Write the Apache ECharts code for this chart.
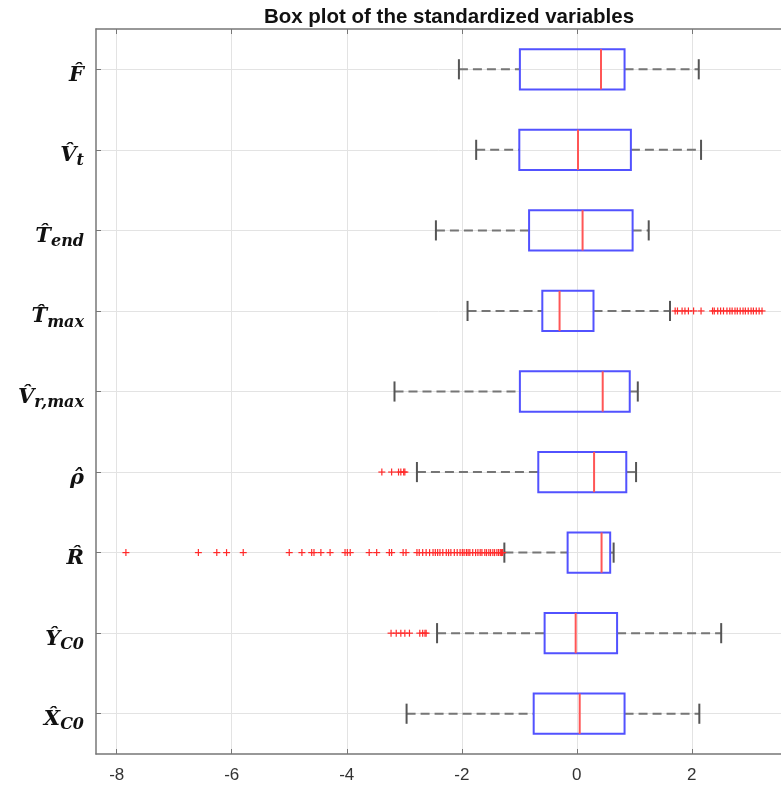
<!DOCTYPE html>
<html>
<head>
<meta charset="utf-8">
<script src="https://cdn.jsdelivr.net/npm/echarts@6/dist/echarts.min.js"></script>
<style>html,body{margin:0;padding:0;background:#fff;overflow:hidden}#c{width:781px;height:789px}</style>
</head>
<body>
<div id="c"></div>
<script>
// ---- data (top to bottom) ----
const categories = ['F', 'V_t', 'T_end', 'T_max', 'V_r,max', 'rho', 'R', 'Y_C0', 'X_C0'];
const labelMain = ['F', 'V', 'T', 'T', 'V', 'ρ', 'R', 'Y', 'X'];
const labelSub = ['', 't', 'end', 'max', 'r,max', '', '', 'C0', 'C0'];
const whiskerLow  = [-2.05, -1.75, -2.45, -1.90, -3.17, -2.78, -1.26, -2.43, -2.96];
const q1          = [-0.99, -1.00, -0.83, -0.60, -0.99, -0.67, -0.16, -0.56, -0.75];
const median      = [ 0.42,  0.02,  0.10, -0.30,  0.45,  0.30,  0.43, -0.02,  0.05];
const q3          = [ 0.83,  0.94,  0.97,  0.29,  0.92,  0.86,  0.58,  0.70,  0.83];
const whiskerHigh = [ 2.12,  2.16,  1.25,  1.62,  1.06,  1.03,  0.64,  2.51,  2.13];
const outliersTmax = [1.71, 1.75, 1.83, 1.88, 1.94, 2.03, 2.16, 2.36, 2.39, 2.45, 2.50, 2.55, 2.61, 2.66,
  2.70, 2.75, 2.79, 2.84, 2.89, 2.93, 2.98, 3.03, 3.07, 3.12, 3.17, 3.22];
const outliersRho = [-3.39, -3.22, -3.10, -3.06, -3.01, -2.99];
const outliersR = [-7.84, -6.58, -6.26, -6.09, -5.80, -5.00, -4.78, -4.61, -4.57, -4.45, -4.29, -4.03, -3.99,
  -3.94, -3.61, -3.48, -3.26, -3.22, -3.02, -2.97, -2.78, -2.74, -2.68, -2.62, -2.56, -2.50, -2.46, -2.42,
  -2.38, -2.33, -2.27, -2.23, -2.19, -2.13, -2.08, -2.03, -1.99, -1.96, -1.92, -1.89, -1.86, -1.81, -1.76,
  -1.72, -1.68, -1.65, -1.60, -1.57, -1.53, -1.50, -1.46, -1.43, -1.39, -1.36, -1.33, -1.31, -1.29];
const outliersY = [-3.23, -3.14, -3.06, -2.99, -2.91, -2.73, -2.68, -2.64, -2.62];
const xTicks = [-8, -6, -4, -2, 0, 2];
const yTicks = [1, 2, 3, 4, 5, 6, 7, 8, 9];

// ---- build series data ----
const boxData = categories.map((c, i) => [i + 1, whiskerLow[i], q1[i], median[i], q3[i], whiskerHigh[i]]);
const outlierData = [];
outliersTmax.forEach(v => outlierData.push([v, categories.indexOf('T_max') + 1]));
outliersRho.forEach(v => outlierData.push([v, categories.indexOf('rho') + 1]));
outliersR.forEach(v => outlierData.push([v, categories.indexOf('R') + 1]));
outliersY.forEach(v => outlierData.push([v, categories.indexOf('Y_C0') + 1]));

const chart = echarts.init(document.getElementById('c'), null, {renderer: 'canvas'});

function renderBox(params, api) {
  const y = api.value(0);
  const band = api.size([0, 1])[1];
  const boxH = band * 0.5, capH = band * 0.25;
  const pL = api.coord([api.value(1), y]);
  const p1 = api.coord([api.value(2), y]);
  const pm = api.coord([api.value(3), y]);
  const p3 = api.coord([api.value(4), y]);
  const pH = api.coord([api.value(5), y]);
  const cy = pL[1];
  const dash = {stroke: '#767676', lineWidth: 2, lineDash: [9, 5]};
  const cap = {stroke: '#555', lineWidth: 2};
  return {
    type: 'group',
    children: [
      {type: 'line', shape: {x1: pL[0], y1: cy, x2: p1[0], y2: cy}, style: dash},
      {type: 'line', shape: {x1: p3[0], y1: cy, x2: pH[0], y2: cy}, style: dash},
      {type: 'line', shape: {x1: pL[0], y1: cy - capH / 2, x2: pL[0], y2: cy + capH / 2}, style: cap},
      {type: 'line', shape: {x1: pH[0], y1: cy - capH / 2, x2: pH[0], y2: cy + capH / 2}, style: cap},
      {type: 'rect', shape: {x: p1[0], y: cy - boxH / 2, width: p3[0] - p1[0], height: boxH},
        style: {fill: 'none', stroke: '#5252ff', lineWidth: 2}},
      {type: 'line', shape: {x1: pm[0], y1: cy - boxH / 2, x2: pm[0], y2: cy + boxH / 2},
        style: {stroke: '#ff5656', lineWidth: 2}}
    ]
  };
}

function renderPlus(params, api) {
  const p = api.coord([api.value(0), api.value(1)]);
  const h = 3.5;
  const st = {stroke: '#ff2a2a', lineWidth: 1.2};
  return {
    type: 'group',
    children: [
      {type: 'line', shape: {x1: p[0] - h, y1: p[1], x2: p[0] + h, y2: p[1]}, style: st},
      {type: 'line', shape: {x1: p[0], y1: p[1] - h, x2: p[0], y2: p[1] + h}, style: st}
    ]
  };
}

const option = {
  animation: false,
  backgroundColor: '#fff',
  title: {
    text: 'Box plot of the standardized variables',
    left: 444, top: 2, textAlign: 'center',
    textStyle: {fontFamily: 'Liberation Sans', fontWeight: 'bold', fontSize: 20.5, color: '#111'}
  },
  grid: {left: 96, right: 0, top: 29, bottom: 35},
  xAxis: [{
    type: 'value', position: 'bottom', min: -8.36, max: 3.55,
    axisLine: {show: true, onZero: false, lineStyle: {color: '#777', width: 1.5}},
    axisTick: {show: true, inside: true, length: 5, customValues: xTicks, lineStyle: {color: '#777'}},
    axisLabel: {customValues: xTicks, margin: 13, fontFamily: 'Liberation Sans', fontSize: 17, color: '#333',
      formatter: v => String(v)},
    splitLine: {show: true, lineStyle: {color: '#e3e3e3', width: 1}}
  }, {
    type: 'value', position: 'top', min: -8.36, max: 3.55,
    axisLine: {show: true, onZero: false, lineStyle: {color: '#777', width: 1.5}},
    axisTick: {show: true, inside: true, length: 5, customValues: xTicks, lineStyle: {color: '#777'}},
    axisLabel: {show: false},
    splitLine: {show: false}
  }],
  yAxis: {
    type: 'value', inverse: true, min: 0.5, max: 9.5,
    axisLine: {show: true, onZero: false, lineStyle: {color: '#777', width: 1.5}},
    axisTick: {show: true, inside: true, length: 5, customValues: yTicks, lineStyle: {color: '#777'}},
    splitLine: {show: true, lineStyle: {color: '#e3e3e3', width: 1}},
    axisLabel: {
      customValues: yTicks, margin: 12, padding: [15, 0, 0, 0],
      formatter: v => {
        const i = Math.round(v) - 1;
        const m = labelMain[i] + '\u0302';
        return labelSub[i] ? '{m|' + m + '}{s|' + labelSub[i] + '}' : '{m|' + m + '}';
      },
      rich: {
        m: {fontFamily: 'DejaVu Serif', fontStyle: 'italic', fontWeight: 'bold', fontSize: 21,
          color: '#111', lineHeight: 24, verticalAlign: 'top'},
        s: {fontFamily: 'DejaVu Serif', fontStyle: 'italic', fontWeight: 'bold', fontSize: 16,
          color: '#111', lineHeight: 16, padding: [11, 0, 0, 0], verticalAlign: 'bottom'}
      }
    }
  },
  series: [{
    type: 'custom', xAxisIndex: 0, yAxisIndex: 0,
    renderItem: renderBox,
    encode: {x: [1, 2, 3, 4, 5], y: 0},
    data: boxData, z: 3
  }, {
    type: 'custom', xAxisIndex: 0, yAxisIndex: 0,
    renderItem: renderPlus,
    encode: {x: 0, y: 1},
    data: outlierData, z: 4
  }]
};
chart.setOption(option);
</script>
</body>
</html>
